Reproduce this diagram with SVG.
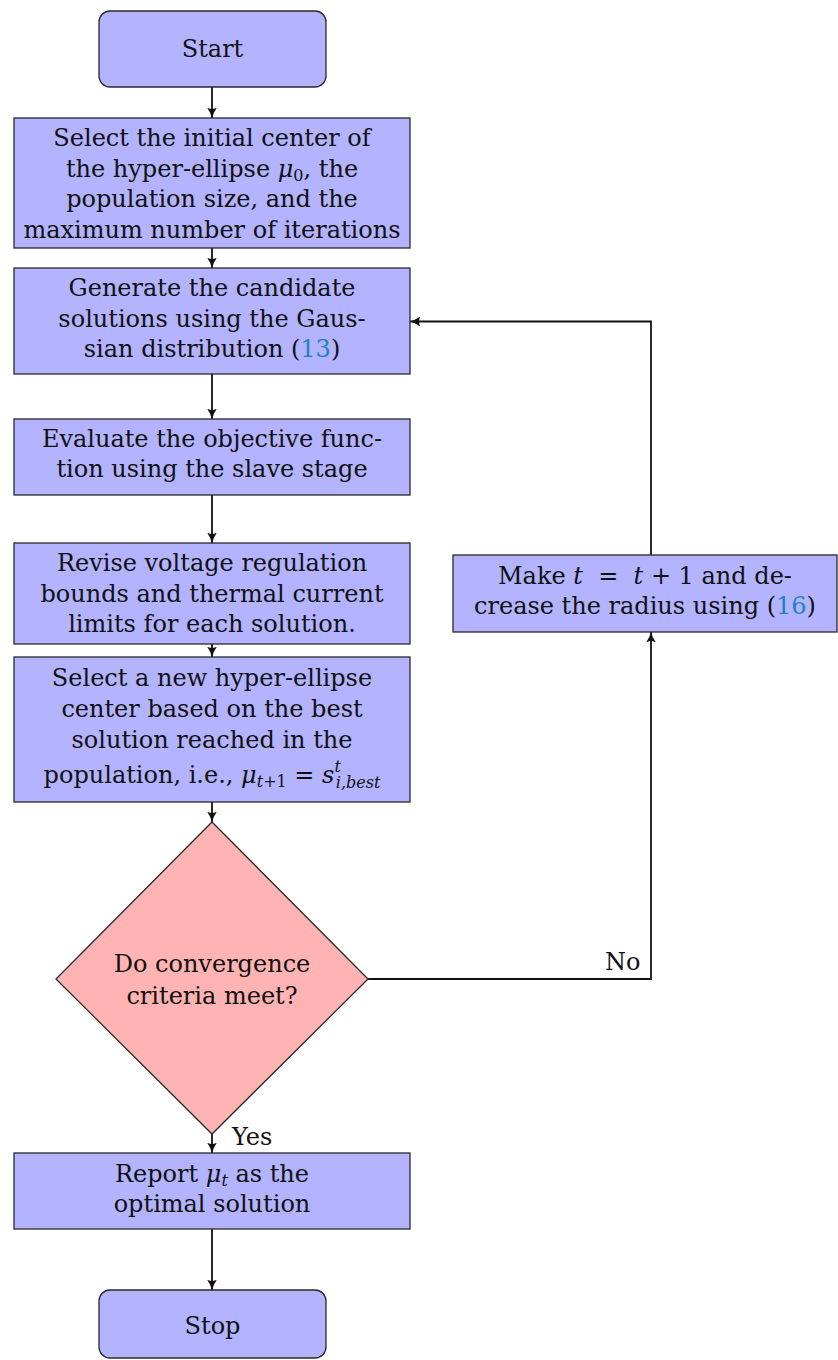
<svg xmlns="http://www.w3.org/2000/svg" width="838" height="1360" viewBox="0 0 838 1360">
<style>
.box{fill:#b3b3ff;stroke:#2a2a2a;stroke-width:1.3}
.dia{fill:#ffb3b3;stroke:#2a2a2a;stroke-width:1.3}
.t{font-family:"DejaVu Serif","Liberation Serif",serif;font-size:24px;fill:#111;text-anchor:middle}
.l{font-family:"DejaVu Serif","Liberation Serif",serif;font-size:24px;fill:#111}
.it{font-style:italic}
.sub{font-size:16px}
.ref{fill:#1f83c0}
.c{fill:none;stroke:#111;stroke-width:1.8}
</style>
<defs>
<marker id="arr" viewBox="0 0 10 10" refX="9.5" refY="5" markerWidth="11" markerHeight="11" orient="auto" markerUnits="userSpaceOnUse">
<path d="M0,0.5 Q5,4 9.8,5 Q5,6 0,9.5 Q2.6,5 0,0.5Z" fill="#111"/>
</marker>
</defs>
<g id="connectors">
<line class="c" x1="212" y1="87" x2="212" y2="118" marker-end="url(#arr)"/>
<line class="c" x1="212" y1="248" x2="212" y2="268" marker-end="url(#arr)"/>
<line class="c" x1="212" y1="374" x2="212" y2="419" marker-end="url(#arr)"/>
<line class="c" x1="212" y1="495" x2="212" y2="543" marker-end="url(#arr)"/>
<line class="c" x1="212" y1="644" x2="212" y2="657" marker-end="url(#arr)"/>
<line class="c" x1="212" y1="802" x2="212" y2="822" marker-end="url(#arr)"/>
<line class="c" x1="212" y1="1134" x2="212" y2="1153" marker-end="url(#arr)"/>
<line class="c" x1="212" y1="1229" x2="212" y2="1290" marker-end="url(#arr)"/>
<polyline class="c" points="368,979 651,979 651,632" marker-end="url(#arr)"/>
<polyline class="c" points="651,555 651,321.5 410,321.5" marker-end="url(#arr)"/>
<text class="l" x="605" y="970">No</text>
<text class="l" x="232" y="1145">Yes</text>
</g>
<g id="start">
<rect class="box" x="99" y="11" width="227" height="76" rx="11"/>
<text class="t" x="212.5" y="57">Start</text>
</g>
<g id="init">
<rect class="box" x="14" y="118" width="396" height="130"/>
<text class="t" x="212" y="146">Select the initial center of</text>
<text class="t" x="212" y="176.5">the hyper-ellipse <tspan class="it">μ</tspan><tspan class="sub" dy="4">0</tspan><tspan dy="-4">, the</tspan></text>
<text class="t" x="212" y="207">population size, and the</text>
<text class="t" x="212" y="237.5">maximum number of iterations</text>
</g>
<g id="generate">
<rect class="box" x="14" y="268" width="396" height="106"/>
<text class="t" x="212" y="296">Generate the candidate</text>
<text class="t" x="212" y="326.5">solutions using the Gaus-</text>
<text class="t" x="212" y="357">sian distribution (<tspan class="ref">13</tspan>)</text>
</g>
<g id="evaluate">
<rect class="box" x="14" y="419" width="396" height="76"/>
<text class="t" x="212" y="447">Evaluate the objective func-</text>
<text class="t" x="212" y="477">tion using the slave stage</text>
</g>
<g id="revise">
<rect class="box" x="14" y="543" width="396" height="101"/>
<text class="t" x="212" y="571">Revise voltage regulation</text>
<text class="t" x="212" y="601.5">bounds and thermal current</text>
<text class="t" x="212" y="632">limits for each solution.</text>
</g>
<g id="select">
<rect class="box" x="14" y="657" width="396" height="145"/>
<text class="t" x="212" y="686">Select a new hyper-ellipse</text>
<text class="t" x="212" y="717">center based on the best</text>
<text class="t" x="212" y="748">solution reached in the</text>
<text class="t" x="212" y="783">population, i.e., <tspan class="it">μ</tspan><tspan class="sub" dy="4"><tspan class="it">t</tspan>+1</tspan><tspan dy="-4">&#160;=&#160;</tspan><tspan class="it">s</tspan><tspan class="sub it" dy="-11">t</tspan><tspan class="sub it" dx="-5" dy="16">i,best</tspan></text>
</g>
<g id="decision">
<polygon class="dia" points="212,822 368,979 212,1134 56,979"/>
<text class="t" x="212" y="972">Do convergence</text>
<text class="t" x="212" y="1004">criteria meet?</text>
</g>
<g id="update">
<rect class="box" x="453" y="555" width="384" height="77"/>
<text class="t" x="645" y="584">Make <tspan class="it">t</tspan>&#160;&#160;=&#160;&#160;<tspan class="it">t</tspan> + 1 and de-</text>
<text class="t" x="645" y="614">crease the radius using (<tspan class="ref">16</tspan>)</text>
</g>
<g id="report">
<rect class="box" x="14" y="1153" width="396" height="76"/>
<text class="t" x="212" y="1182">Report <tspan class="it">μ</tspan><tspan class="sub it" dy="4">t</tspan><tspan dy="-4"> as the</tspan></text>
<text class="t" x="212" y="1212">optimal solution</text>
</g>
<g id="stop">
<rect class="box" x="99" y="1290" width="227" height="68" rx="11"/>
<text class="t" x="212.5" y="1334">Stop</text>
</g>
</svg>
